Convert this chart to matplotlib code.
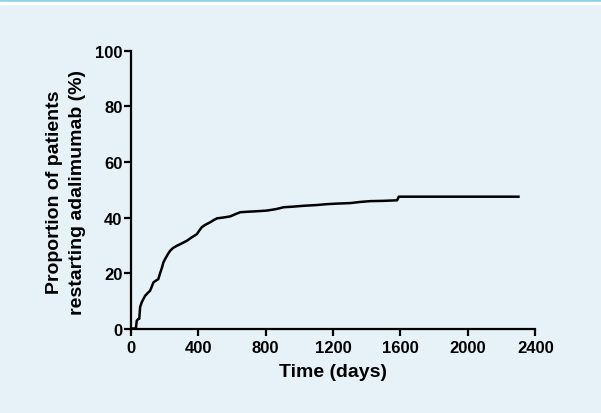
import matplotlib.pyplot as plt
from matplotlib.patches import Rectangle

plt.rcParams['font.family'] = ['Liberation Sans', 'DejaVu Sans']
plt.rcParams['font.weight'] = 'bold'

# curve (days, % restarting)
days = [0, 20, 30, 35, 45, 50, 55, 65, 74, 85, 100, 114, 125, 134, 150, 163, 174, 185,
        193, 205, 220, 233, 250, 273, 300, 332, 360, 392, 405, 421, 440, 471,
        490, 511, 550, 590, 620, 649, 700, 760, 808, 860, 907, 960, 1020, 1105,
        1160, 1220, 1303, 1360, 1420, 1500, 1580, 1590, 1700, 1900, 2100, 2300]
pct = [0, 0, 0, 2.8, 3.5, 3.5, 7.7, 9.5, 10.6, 11.8, 12.8, 13.6, 15.2, 16.6, 17.3, 17.8, 20.0, 22.0,
       23.8, 25.2, 26.8, 28.0, 29.0, 29.8, 30.6, 31.6, 32.8, 34.0, 35.2, 36.5, 37.3, 38.3,
       39.0, 39.7, 40.0, 40.4, 41.2, 41.9, 42.1, 42.3, 42.5, 43.0, 43.7, 43.9, 44.2, 44.5,
       44.8, 45.0, 45.2, 45.6, 45.9, 46.0, 46.2, 47.5, 47.5, 47.5, 47.5, 47.5]

xticks = [0, 400, 800, 1200, 1600, 2000, 2400]
yticks = [0, 20, 40, 60, 80, 100]

bg = '#e6f2f8'
fig = plt.figure(figsize=(6.01, 4.14), dpi=100, facecolor=bg)
fig.patches.append(Rectangle((0, 1 - 3 / 414), 1, 3 / 414, transform=fig.transFigure,
                             color='#8fd3e6', zorder=0))
fig.patches.append(Rectangle((0, 1 - 5 / 414), 1, 2 / 414, transform=fig.transFigure,
                             color='white', zorder=0))

ax = fig.add_axes([0.2177, 0.2041, 0.6730, 0.6703])
ax.set_facecolor(bg)
ax.plot(days, pct, color='black', lw=1.8)

ax.set_xlim(0, 2400)
ax.set_ylim(0, 100)
ax.set_xticks(xticks)
ax.set_yticks(yticks)
for s in ['top', 'right']:
    ax.spines[s].set_visible(False)
for s in ['left', 'bottom']:
    ax.spines[s].set_linewidth(1.6)
ax.tick_params(axis='x', width=1.6, length=5, labelsize=12, pad=3)
ax.tick_params(axis='y', width=1.6, length=5, labelsize=12, pad=1)

ax.set_xlabel('Time (days)', fontsize=14, fontweight='bold')
ax.xaxis.set_label_coords(0.5, -0.125)
ax.set_ylabel('Proportion of patients\nrestarting adalimumab (%)', fontsize=14,
              fontweight='bold', linespacing=1.45)
ax.yaxis.set_label_coords(-0.11, 0.495)

fig.savefig('out.png', dpi=100, facecolor=bg)
